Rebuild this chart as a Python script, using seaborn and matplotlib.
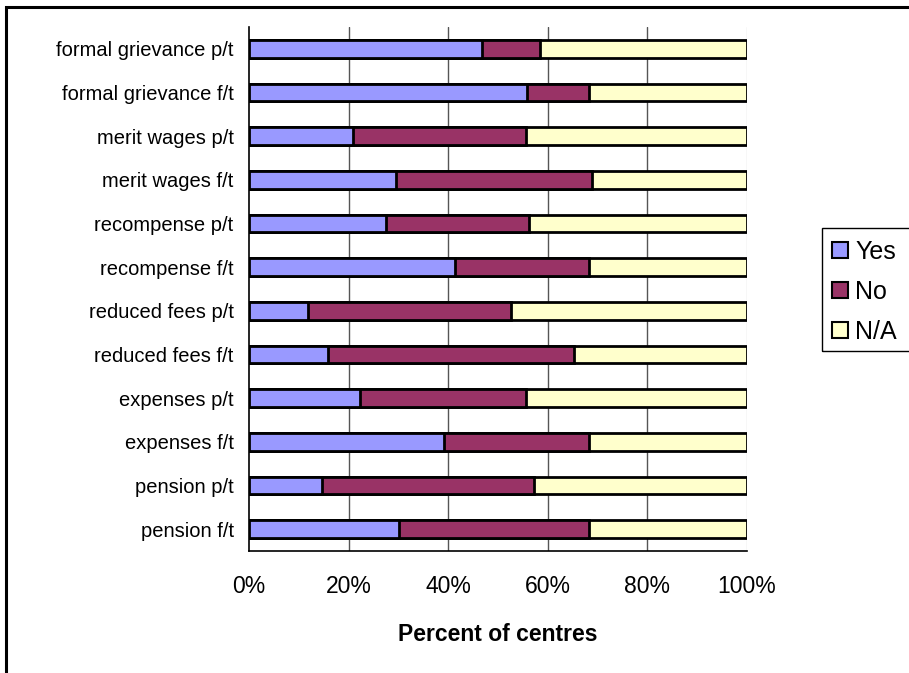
import matplotlib
matplotlib.use("Agg")
import matplotlib.pyplot as plt
from matplotlib.patches import Rectangle
import seaborn as sns
import pandas as pd

categories = [
    "formal grievance p/t", "formal grievance f/t",
    "merit wages p/t", "merit wages f/t",
    "recompense p/t", "recompense f/t",
    "reduced fees p/t", "reduced fees f/t",
    "expenses p/t", "expenses f/t",
    "pension p/t", "pension f/t",
]
yes = [46.8, 55.9, 20.8, 29.6, 27.5, 41.3, 11.8, 15.9, 22.2, 39.2, 14.6, 30.1]
no = [11.7, 12.3, 34.8, 39.3, 28.8, 26.9, 40.8, 49.4, 33.4, 29.0, 42.7, 38.1]
na = [100 - y - n for y, n in zip(yes, no)]
series = ["Yes", "No", "N/A"]
colors = {"Yes": "#9999FF", "No": "#993366", "N/A": "#FFFFCC"}

df = pd.DataFrame({"category": categories, "Yes": yes, "No": no, "N/A": na})
df["yes_end"] = df["Yes"]
df["no_end"] = df["Yes"] + df["No"]
df["na_end"] = df["no_end"] + df["N/A"]

sns.set_style("white")
plt.rcParams["font.family"] = ["Liberation Sans", "DejaVu Sans"]
plt.rcParams["text.color"] = "black"
plt.rcParams["axes.labelcolor"] = "black"
plt.rcParams["xtick.color"] = "black"
plt.rcParams["ytick.color"] = "black"

W, H = 909, 673
fig = plt.figure(figsize=(W / 100, H / 100), dpi=100)


def fx(x):
    return x / W


def fy(y):
    return 1 - y / H


ax = fig.add_axes([fx(249), fy(551), fx(747) - fx(249), fy(27) - fy(551)])

# stacked bars: draw cumulative totals back to front
for end_col, name in [("na_end", "N/A"), ("no_end", "No"), ("yes_end", "Yes")]:
    sns.barplot(data=df, x=end_col, y="category", order=categories,
                orient="h", color=colors[name], width=0.4,
                edgecolor="black", linewidth=2, saturation=1,
                ax=ax, zorder=3)

ax.set_xlim(0, 100)
ax.set_ylim(len(categories) - 0.5, -0.5)

# vertical gridlines
for v in [20, 40, 60, 80]:
    ax.axvline(v, color="#555555", linewidth=1, zorder=1)
ax.axvline(100, color="#d8d8d8", linewidth=1, zorder=1)

for s in ["top", "right"]:
    ax.spines[s].set_visible(False)
for s in ["left", "bottom"]:
    ax.spines[s].set_color("black")
    ax.spines[s].set_linewidth(1.2)
    ax.spines[s].set_zorder(5)

ax.set_xticks([0, 20, 40, 60, 80, 100])
ax.set_xticklabels(["0%", "20%", "40%", "60%", "80%", "100%"], fontsize=16.5)
ax.tick_params(axis="x", direction="inout", length=8, width=1, pad=13)

ax.set_yticks(range(len(categories)))
ax.set_yticklabels(categories, fontsize=14.5)
ax.tick_params(axis="y", length=0, pad=11)
ax.set_yticks([i - 0.5 for i in range(len(categories) + 1)], minor=True)
ax.tick_params(axis="y", which="minor", direction="out", length=5, width=1.2)

ax.set_xlabel("Percent of centres", fontsize=16.5, fontweight="bold", labelpad=18)
ax.set_ylabel("")

# legend with a square frame that runs off the right edge
leg_handles = [Rectangle((0, 0), 1, 1, facecolor=colors[s], edgecolor="black", linewidth=1.5)
               for s in series]
ax.legend(leg_handles, series, loc="upper left",
          bbox_to_anchor=(fx(822), fy(230)), bbox_transform=fig.transFigure,
          frameon=False, fontsize=18, handlelength=0.62, handleheight=0.62,
          handletextpad=0.3, labelspacing=0.64, borderaxespad=0)
fig.patches.append(Rectangle((fx(822), fy(351)), fx(940) - fx(822), fy(228) - fy(351),
                             transform=fig.transFigure, fill=False,
                             edgecolor="black", linewidth=1, clip_on=False))

# outer chart frame
fig.patches.append(Rectangle((fx(6), fy(700)), fx(950) - fx(6), fy(7) - fy(700),
                             transform=fig.transFigure, fill=False,
                             edgecolor="black", linewidth=2.2, clip_on=False))

fig.savefig("out.png", dpi=100)
